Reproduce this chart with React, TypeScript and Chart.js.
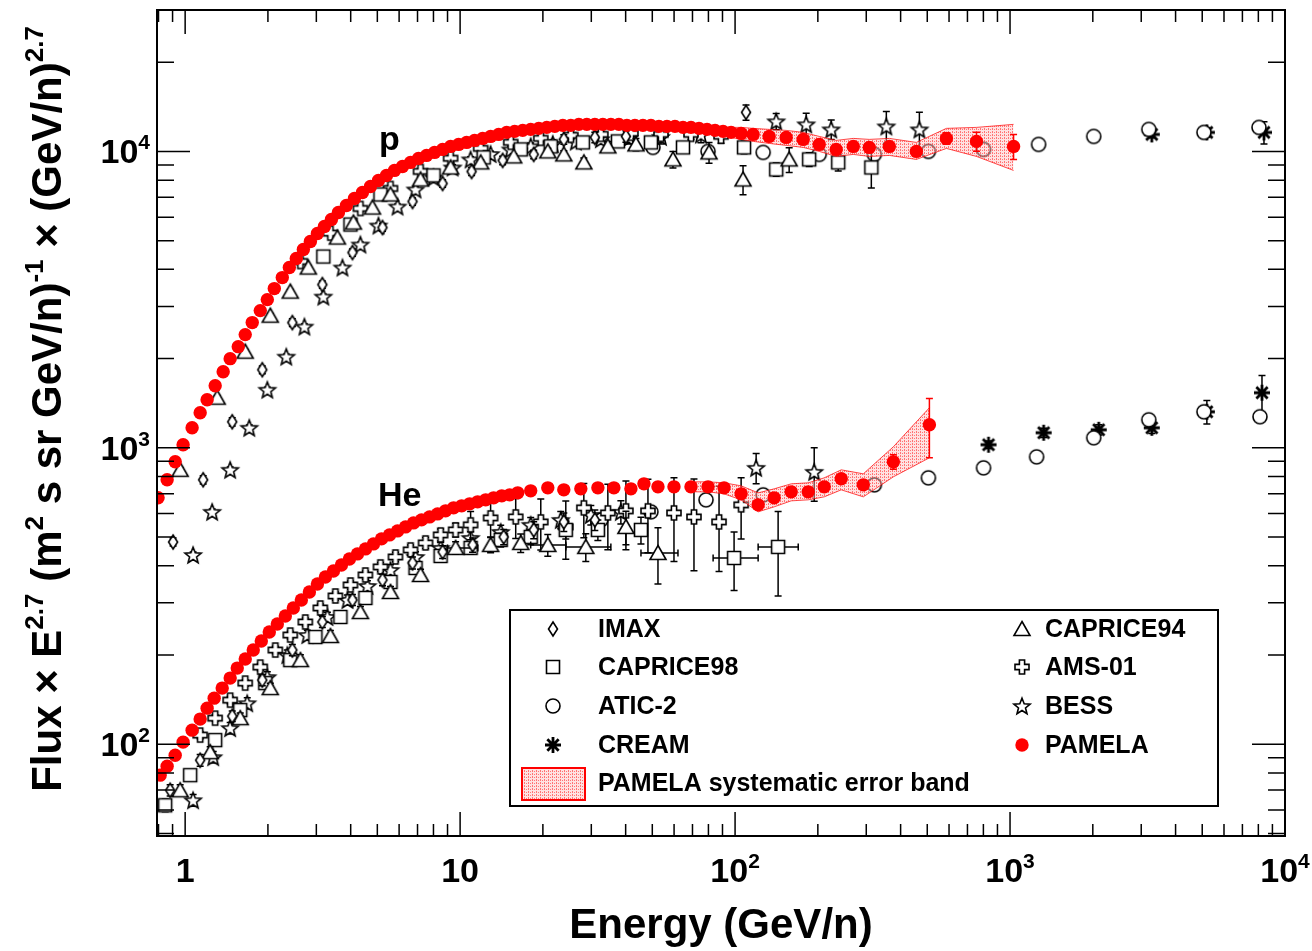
import React, { useEffect, useRef } from "react";
import { Chart, registerables } from "chart.js";

Chart.register(...registerables);

const FONT = "'Liberation Sans', Arial, Helvetica, sans-serif";

// ---------------- axis ranges ----------------
const X_MIN = 0.79;
const X_MAX = 10000;
const Y_MIN = 49;
const Y_MAX = 30000;

// ---------------- PAMELA protons ----------------
const PAM_P_E = [0.797, 0.86, 0.92, 0.983, 1.06, 1.134, 1.202, 1.286, 1.375, 1.458,
  1.56, 1.654, 1.754, 1.876, 1.99, 2.11, 2.256, 2.393, 2.537, 2.691,
  2.854, 3.027, 3.21, 3.404, 3.61, 3.859, 4.127, 4.413, 4.721, 5.048,
  5.398, 5.772, 6.172, 6.601, 7.06, 7.551, 8.073, 8.636, 9.234, 9.874,
  10.56, 11.29, 12.08, 12.91, 13.81, 14.77, 15.79, 16.89, 18.06, 19.32,
  20.66, 22.1, 23.63, 25.27, 27.02, 28.89, 30.9, 33.04, 35.34, 37.79,
  40.42, 43.22, 46.22, 49.43, 52.86, 56.53, 60.45, 64.65, 69.13, 73.94,
  79.07, 84.55, 90.43, 96.7, 105.2, 116.3, 133, 153.4, 176.9, 202.3,
  233.3, 269.1, 307.7, 363.9, 456.3, 587, 755.1, 1030];
const PAM_P_F = [678, 780, 897, 1024, 1168, 1313, 1453, 1620, 1806, 1999,
  2194, 2409, 2645, 2903, 3162, 3445, 3752, 4057, 4350, 4667,
  4965, 5284, 5581, 5892, 6222, 6570, 6937, 7270, 7616, 7981,
  8298, 8627, 8899, 9180, 9470, 9694, 9922, 10156, 10396, 10559,
  10725, 10894, 11064, 11237, 11414, 11593, 11684, 11775, 11867, 11960,
  12053, 12147, 12242, 12242, 12338, 12338, 12338, 12338, 12338, 12338,
  12242, 12242, 12242, 12242, 12147, 12147, 12147, 12053, 12053, 11960,
  11867, 11775, 11684, 11593, 11503, 11414, 11237, 11150, 10979, 10559,
  10156, 10396, 10316, 10396, 10000, 11064, 10810, 10396];
const PAM_P_ERR = [0, 0, 0, 0, 0, 0, 0, 0, 0, 0,
  0, 0, 0, 0, 0, 0, 0, 0, 0, 0,
  0, 0, 0, 0, 0, 0, 0, 0, 0, 0,
  0, 0, 0, 0, 0, 0, 0, 0, 0, 0,
  0, 0, 0, 0, 0, 0, 0, 0, 0, 0,
  0, 0, 0, 0, 0, 0, 0, 0, 0, 0,
  0, 0, 0, 0, 0, 0, 0, 0, 0, 0,
  0, 0, 0, 0, 0, 0, 0, 0, 0, 0,
  0, 0, 200, 250, 300, 500, 800, 1000];

// PAMELA proton systematic band
const PAM_P_BAND_E = [64.65, 69.13, 73.94, 79.07, 84.55, 90.43, 96.7, 105.2, 116.3, 133, 153.4,
  176.9, 202.3, 233.3, 269.1, 307.7, 363.9, 456.3, 587, 755.1, 1030];
const PAM_P_BAND_HI = [12434, 12434, 12338, 12242, 12147, 12053, 12053, 12053, 11960, 11867, 11775,
  11593, 11237, 10894, 11064, 10979, 11064, 10725, 11960, 12053, 12338];
const PAM_P_BAND_LO = [11684, 11684, 11593, 11503, 11414, 11325, 11150, 10979, 10810, 10642, 10478,
  10316, 10000, 9618, 9769, 9618, 9694, 9397, 10236, 9618, 8627];

// ---------------- PAMELA helium ----------------
const PAM_HE_E = [0.811, 0.86, 0.92, 0.983, 1.06, 1.134, 1.202, 1.275, 1.364, 1.458,
  1.547, 1.654, 1.769, 1.892, 2.023, 2.164, 2.314, 2.474, 2.646, 2.83,
  3.027, 3.236, 3.462, 3.701, 3.957, 4.232, 4.525, 4.84, 5.176, 5.535,
  5.92, 6.331, 6.769, 7.238, 7.741, 8.279, 8.854, 9.469, 10.13, 10.83,
  11.58, 12.39, 13.24, 14.17, 15.15, 16.2, 18.06, 20.84, 23.83, 27.48,
  31.7, 36.24, 41.8, 46.62, 52.43, 59.95, 69.13, 79.74, 91.19, 105.2,
  121.3, 138.7, 160, 184.5, 211, 243.3, 292.7, 376.4, 509];
const PAM_HE_F = [78.6, 84.3, 91.8, 101.6, 111.5, 121.5, 132.3, 143.0, 154.6, 167.1,
  180.6, 193.8, 207.8, 222.8, 239.0, 254.3, 270.6, 288.1, 306.6, 326.2,
  347.1, 366.6, 384.1, 402.4, 421.7, 438.5, 455.9, 474.0, 492.8, 508.3,
  524.3, 540.9, 557.9, 571.2, 584.6, 598.4, 612.7, 627.1, 637.0, 646.9,
  657.1, 667.4, 677.8, 688.4, 693.8, 704.7, 715.7, 732.7, 721.3, 727.0,
  732.7, 732.7, 727.0, 755.8, 738.3, 738.3, 738.3, 738.3, 732.7, 699.2,
  641.9, 677.8, 710.2, 710.2, 738.3, 785.8, 749.9, 896.7, 1196];
const PAM_HE_ERR = [0, 0, 0, 0, 0, 0, 0, 0, 0, 0,
  0, 0, 0, 0, 0, 0, 0, 0, 0, 0,
  0, 0, 0, 0, 0, 0, 0, 0, 0, 0,
  0, 0, 0, 0, 0, 0, 0, 0, 0, 0,
  0, 0, 0, 0, 0, 0, 0, 0, 0, 0,
  0, 0, 0, 0, 0, 0, 0, 0, 0, 0,
  0, 0, 12, 12, 15, 18, 25, 50, 270];

const PAM_HE_BAND_E = [69.13, 79.74, 91.19, 105.2, 121.3, 138.7, 160, 184.5, 211, 243.3, 292.7, 376.4, 509];
const PAM_HE_BAND_HI = [767.6, 767.6, 761.8, 744.1, 704.7, 727.0, 755.8, 761.8, 791.8, 842.7, 816.9, 1007.9, 1365];
const PAM_HE_BAND_LO = [710.2, 710.2, 699.2, 667.4, 607.9, 632.0, 662.2, 667.4, 683.1, 721.3, 683.1, 798.0, 925.1];

// ---------------- IMAX ----------------
const IMAX_P_E = [0.904, 1.163, 1.483, 1.908, 2.454, 3.155, 4.059, 5.22, 6.713, 8.636, 11.01, 14.28, 18.52, 23.83, 30.9, 40.09, 109.6];
const IMAX_P_F = [481, 780, 1224, 1834, 2645, 3554, 4558, 5537, 6777, 7796, 8558, 9324, 9769, 10979, 11150, 11237, 13543];
const IMAX_P_ERR = [15, 25, 40, 55, 80, 100, 130, 160, 190, 230, 260, 300, 330, 400, 450, 500, 800];
const IMAX_HE_E = [0.882, 1.134, 1.483, 1.908, 2.454, 3.155, 4.059, 5.22, 6.713, 8.636, 11.1, 14.4, 18.52, 23.83, 30.9];
const IMAX_HE_F = [69.9, 88.3, 124.3, 164.5, 207.8, 258.4, 306.6, 358.2, 408.8, 445.3, 470.3, 500.4, 528.5, 562.3, 571.2];
const IMAX_HE_ERR = [3, 4, 5, 7, 9, 11, 13, 16, 19, 22, 26, 30, 35, 40, 45];

// ---------------- CAPRICE94 ----------------
const C94_P_E = [0.959, 1.308, 1.654, 2.04, 2.412, 2.806, 3.579, 4.093, 4.8, 5.582, 7.18, 9.234, 11.88, 15.66, 20.84, 23.83, 28.18, 34.46, 43.6, 59.44, 80.41, 106.9, 157.3];
const C94_P_F = [843, 1476, 2110, 2792, 3365, 4057, 5123, 5755, 6467, 7157, 8043, 8828, 9180, 9618, 10000, 9769, 9180, 10396, 10559, 9397, 9922, 8043, 9397];
const C94_P_ERR = [15, 25, 35, 45, 55, 65, 80, 90, 100, 110, 130, 150, 170, 200, 250, 280, 320, 400, 500, 600, 800, 900, 900];
const C94_HE_E = [0.959, 1.233, 1.586, 2.04, 2.625, 3.375, 4.34, 5.582, 7.18, 9.63, 12.91, 16.61, 20.84, 28.65, 40.09, 52.43];
const C94_HE_F = [69.9, 94.0, 122.4, 154.6, 192.2, 231.7, 279.2, 326.2, 372.3, 459.5, 470.3, 477.7, 470.3, 463.0, 540.9, 441.9];
const C94_HE_ERR = [3, 4, 5, 6, 8, 10, 12, 14, 17, 22, 28, 34, 40, 50, 70, 95];
const C94_HE_XLO = [0, 0, 0, 0, 0, 0, 0, 0, 0, 9.0, 0, 0, 18.06, 24.23, 0, 45.47];
const C94_HE_XHI = [0, 0, 0, 0, 0, 0, 0, 0, 0, 11.6, 0, 0, 24.23, 35.34, 0, 61.99];

// ---------------- CAPRICE98 ----------------
const C98_P_E = [3.182, 3.992, 5.133, 8.006, 12.18, 16.61, 21.36, 27.95, 37.48, 49.43, 64.65, 107.8, 141.1, 186, 237.2, 313];
const C98_P_F = [4419, 5667, 7157, 8298, 9544, 10156, 10396, 10725, 10810, 10725, 10316, 10316, 8692, 9397, 9180, 8828];
const C98_P_ERR = [60, 80, 100, 120, 150, 180, 220, 260, 300, 350, 400, 500, 450, 500, 600, 1300];
const C98_HE_E = [0.846, 1.043, 1.286, 1.586, 1.956, 2.412, 2.976, 3.67, 4.525, 5.582, 6.885, 8.492, 10.92, 14.05, 18.06, 24.23, 31.7, 45.47, 99.17, 143.4];
const C98_HE_F = [62.2, 78.6, 103.2, 130.3, 160.7, 192.2, 229.9, 268.7, 311.4, 352.6, 393.2, 431.6, 459.5, 489, 500.4, 528.5, 528.5, 528.5, 424.9, 463];
const C98_HE_ERR = [3, 3, 4, 5, 6, 7, 8, 10, 12, 14, 16, 18, 22, 26, 30, 36, 42, 55, 95, 147];
const C98_HE_XLO = [0, 0, 0, 0, 0, 0, 0, 0, 0, 0, 0, 0, 0, 0, 0, 0, 0, 0, 83.2, 121.3];
const C98_HE_XHI = [0, 0, 0, 0, 0, 0, 0, 0, 0, 0, 0, 0, 0, 0, 0, 0, 0, 0, 121.3, 169.7];

// ---------------- ATIC-2 ----------------
const ATIC_P_E = [50.27, 79.74, 126.5, 202.3, 321, 504.9, 800.9, 1270, 2015, 3196, 5070, 8042];
const ATIC_P_F = [10316, 10000, 9922, 9769, 9769, 10000, 10156, 10559, 11237, 11867, 11593, 12053];
const ATIC_HE_E = [32.5, 49.43, 78.41, 126.5, 321, 504.9, 800.9, 1249, 2015, 3196, 5070, 8110];
const ATIC_HE_F = [571.2, 607.9, 667.4, 693.8, 749.9, 791.8, 855.9, 932.3, 1081, 1243, 1323, 1273];

// ---------------- CREAM ----------------
const CREAM_P_E = [3277, 5198, 8386];
const CREAM_P_F = [11414, 11593, 11593];
const CREAM_P_ERR = [300, 400, 1000];
const CREAM_HE_E = [835.2, 1325, 2101, 3277, 5198, 8247];
const CREAM_HE_F = [1024, 1124, 1150, 1168, 1323, 1534];
const CREAM_HE_ERR = [30, 40, 45, 50, 120, 220];

// ---------------- BESS ----------------
const BESS_P_E = [1.069, 1.254, 1.458, 1.711, 1.99, 2.333, 2.714, 3.182, 3.733, 4.34,
  5.048, 5.92, 6.885, 8.006, 9.391, 10.92, 12.91, 15.28, 18.06, 21.73,
  26.35, 32.5, 41.11, 53.76, 75.16, 141.1, 181.4, 223.7, 354.9, 468.1];
const BESS_P_F = [435, 608, 843, 1168, 1570, 2030, 2564, 3237, 4057, 4851,
  5623, 6518, 7440, 8169, 8828, 9397, 9800, 10150, 10400, 10600,
  10800, 11000, 11100, 11200, 11400, 12632, 12338, 11867, 12147, 11867];
const BESS_P_ERR = [10, 14, 18, 25, 32, 40, 50, 60, 75, 90,
  105, 120, 140, 160, 180, 200, 220, 250, 280, 320,
  360, 420, 500, 600, 700, 800, 1100, 900, 1500, 1700];
const BESS_HE_E = [1.069, 1.265, 1.458, 1.682, 1.99, 2.353, 2.782, 3.291, 3.893, 4.603, 5.582, 6.885, 8.492, 10.92, 14.05, 18.06, 23.23, 29.88, 38.43, 119.3, 194];
const BESS_HE_F = [64.7, 90.4, 113.3, 137.5, 168.4, 199.8, 233.5, 268.7, 306.6, 341.8, 387, 428.3, 459.5, 496.5, 520.3, 549.5, 571.2, 593.7, 607.9, 855.9, 829.7];
const BESS_HE_ERR = [3, 4, 5, 6, 7, 8, 9, 10, 12, 14, 16, 18, 20, 24, 28, 32, 38, 45, 55, 100, 170];

// ---------------- AMS-01 ----------------
const AMS_P_E = [2.625, 3.375, 4.34, 5.582, 7.18, 9.234, 11.88, 15.28, 19.65, 25.27, 32.5, 41.8, 53.76, 69.13, 88.92];
const AMS_P_F = [4250, 5300, 6420, 7500, 8560, 9480, 10240, 10730, 11070, 11330, 11420, 11510, 11420, 11420, 11250];
const AMS_P_ERR = [40, 50, 60, 70, 80, 90, 100, 120, 150, 180, 220, 280, 350, 450, 600];
const AMS_HE_E = [1.134, 1.286, 1.458, 1.654, 1.876, 2.128, 2.412, 2.736, 3.103, 3.519,
  3.992, 4.525, 5.133, 5.821, 6.601, 7.487, 8.492, 9.63, 10.92, 12.91,
  15.93, 19.65, 24.23, 28.18, 34.46, 40.09, 48.21, 59.95, 70.88, 87.44, 105.2];
const AMS_HE_F = [107.3, 122.4, 140.8, 160.7, 182, 207.8, 233.5, 258.4, 288.1, 316.2,
  344.5, 372.3, 396.3, 428.3, 452.3, 477.7, 508.3, 528.5, 549.5, 580.1,
  584.6, 562.3, 540.9, 627.1, 603.1, 612.7, 612.7, 603.1, 584.6, 562.3, 641.9];
const AMS_HE_ERR = [3, 3, 4, 4, 5, 6, 7, 8, 9, 10,
  11, 12, 14, 16, 18, 20, 24, 28, 60, 80,
  90, 110, 120, 130, 150, 160, 170, 190, 200, 180, 150];

// ---------------- tick / legend text ----------------
const X_TICKS = [1, 10, 100, 1000, 10000];
const X_TICK_TEXT = [["1", ""], ["10", ""], ["10", "2"], ["10", "3"], ["10", "4"]];
const Y_TICKS = [100, 1000, 10000];
const Y_TICK_TEXT = [["10", "2"], ["10", "3"], ["10", "4"]];

function pts(E: number[], F: number[]) {
  return E.map((x, i) => ({ x, y: F[i] }));
}

function makeSymbol(kind: string): HTMLCanvasElement {
  const S = 24;
  const c = document.createElement("canvas");
  c.width = S;
  c.height = S;
  const g = c.getContext("2d")!;
  g.translate(S / 2, S / 2);
  g.strokeStyle = "#000";
  g.fillStyle = "#fff";
  g.lineWidth = 1.6;
  g.beginPath();
  if (kind === "diamond") {
    g.moveTo(0, -7);
    g.lineTo(4.5, 0);
    g.lineTo(0, 7);
    g.lineTo(-4.5, 0);
    g.closePath();
  } else if (kind === "square") {
    g.rect(-6.5, -6.5, 13, 13);
  } else if (kind === "circle") {
    g.arc(0, 0, 7, 0, Math.PI * 2);
  } else if (kind === "triangle") {
    g.moveTo(0, -7.5);
    g.lineTo(8, 6.5);
    g.lineTo(-8, 6.5);
    g.closePath();
  } else if (kind === "cross") {
    const a = 2.6, L = 7;
    g.moveTo(-a, -L); g.lineTo(a, -L); g.lineTo(a, -a); g.lineTo(L, -a); g.lineTo(L, a);
    g.lineTo(a, a); g.lineTo(a, L); g.lineTo(-a, L); g.lineTo(-a, a); g.lineTo(-L, a);
    g.lineTo(-L, -a); g.lineTo(-a, -a); g.closePath();
  } else if (kind === "star") {
    for (let i = 0; i < 10; i++) {
      const ang = -Math.PI / 2 + (i * Math.PI) / 5;
      const r = i % 2 === 0 ? 8.5 : 3.7;
      const px = Math.cos(ang) * r, py = Math.sin(ang) * r + 0.8;
      if (i === 0) g.moveTo(px, py); else g.lineTo(px, py);
    }
    g.closePath();
  } else if (kind === "asterisk") {
    g.lineWidth = 2.8;
    for (let k = 0; k < 4; k++) {
      const ang = (k * Math.PI) / 4;
      g.moveTo(Math.cos(ang) * 8, Math.sin(ang) * 8);
      g.lineTo(-Math.cos(ang) * 8, -Math.sin(ang) * 8);
    }
  }
  if (kind !== "asterisk") g.fill();
  g.stroke();
  return c;
}

function makeBandPattern(ctx: CanvasRenderingContext2D) {
  const c = document.createElement("canvas");
  c.width = 4;
  c.height = 3;
  const g = c.getContext("2d")!;
  g.fillStyle = "rgba(255,190,190,0.45)";
  g.fillRect(0, 0, 4, 3);
  g.fillStyle = "rgba(255,30,30,0.55)";
  g.fillRect(0, 0, 1, 1);
  g.fillRect(2, 0, 1, 1);
  g.fillRect(0, 2, 1, 1);
  return ctx.createPattern(c, "repeat");
}

type Seg = { t: string; sup?: boolean };

function segWidth(ctx: CanvasRenderingContext2D, segs: Seg[], size: number) {
  let w = 0;
  for (const s of segs) {
    ctx.font = `bold ${s.sup ? Math.round(size * 0.62) : size}px ${FONT}`;
    w += ctx.measureText(s.t).width;
  }
  return w;
}

function drawRich(ctx: CanvasRenderingContext2D, segs: Seg[], x: number, y: number, size: number, align: string) {
  const w = segWidth(ctx, segs, size);
  let cx = align === "center" ? x - w / 2 : align === "right" ? x - w : x;
  ctx.textAlign = "left";
  ctx.textBaseline = "alphabetic";
  for (const s of segs) {
    ctx.font = `bold ${s.sup ? Math.round(size * 0.62) : size}px ${FONT}`;
    ctx.fillText(s.t, cx, s.sup ? y - size * 0.42 : y);
    cx += ctx.measureText(s.t).width;
  }
}

function tickSegs(pair: string[]): Seg[] {
  const s: Seg[] = [{ t: pair[0] }];
  if (pair[1]) s.push({ t: pair[1], sup: true });
  return s;
}

export default function App() {
  const ref = useRef<HTMLCanvasElement | null>(null);

  useEffect(() => {
    const canvas = ref.current;
    if (!canvas) return;
    const ctx0 = canvas.getContext("2d")!;
    const band = makeBandPattern(ctx0);
    const SYM: Record<string, HTMLCanvasElement> = {
      diamond: makeSymbol("diamond"),
      square: makeSymbol("square"),
      circle: makeSymbol("circle"),
      triangle: makeSymbol("triangle"),
      cross: makeSymbol("cross"),
      star: makeSymbol("star"),
      asterisk: makeSymbol("asterisk"),
    };

    const black = (label: string, sym: string, E: number[], F: number[], err?: number[], xlo?: number[], xhi?: number[]) => ({
      type: "scatter",
      label,
      data: pts(E, F),
      pointStyle: SYM[sym],
      pointRadius: 7,
      order: 2,
      errY: err,
      xLo: xlo,
      xHi: xhi,
      errColor: "#000",
    });

    const pamela = (E: number[], F: number[], err: number[]) => ({
      type: "scatter",
      label: "PAMELA",
      data: pts(E, F),
      pointStyle: "circle",
      pointRadius: 6.7,
      pointBackgroundColor: "#ff0000",
      pointBorderColor: "#ff0000",
      pointBorderWidth: 0,
      order: 0,
      errY: err,
      errColor: "#ff0000",
    });

    const bandLine = (E: number[], F: number[], fill: any) => ({
      type: "line",
      label: "PAMELA systematic error band",
      data: pts(E, F),
      pointRadius: 0,
      borderColor: "rgba(255,0,0,0.7)",
      borderWidth: 1,
      backgroundColor: band,
      fill,
      tension: 0,
      order: 1,
    });

    const datasets: any[] = [
      pamela(PAM_P_E, PAM_P_F, PAM_P_ERR),
      pamela(PAM_HE_E, PAM_HE_F, PAM_HE_ERR),
      bandLine(PAM_P_BAND_E, PAM_P_BAND_HI, false),
      bandLine(PAM_P_BAND_E, PAM_P_BAND_LO, "-1"),
      bandLine(PAM_HE_BAND_E, PAM_HE_BAND_HI, false),
      bandLine(PAM_HE_BAND_E, PAM_HE_BAND_LO, "-1"),
      black("IMAX", "diamond", IMAX_P_E, IMAX_P_F, IMAX_P_ERR),
      black("IMAX", "diamond", IMAX_HE_E, IMAX_HE_F, IMAX_HE_ERR),
      black("CAPRICE94", "triangle", C94_P_E, C94_P_F, C94_P_ERR),
      black("CAPRICE94", "triangle", C94_HE_E, C94_HE_F, C94_HE_ERR, C94_HE_XLO, C94_HE_XHI),
      black("CAPRICE98", "square", C98_P_E, C98_P_F, C98_P_ERR),
      black("CAPRICE98", "square", C98_HE_E, C98_HE_F, C98_HE_ERR, C98_HE_XLO, C98_HE_XHI),
      black("AMS-01", "cross", AMS_P_E, AMS_P_F, AMS_P_ERR),
      black("AMS-01", "cross", AMS_HE_E, AMS_HE_F, AMS_HE_ERR),
      black("BESS", "star", BESS_P_E, BESS_P_F, BESS_P_ERR),
      black("BESS", "star", BESS_HE_E, BESS_HE_F, BESS_HE_ERR),
      black("ATIC-2", "circle", ATIC_P_E, ATIC_P_F),
      black("ATIC-2", "circle", ATIC_HE_E, ATIC_HE_F),
      black("CREAM", "asterisk", CREAM_P_E, CREAM_P_F, CREAM_P_ERR),
      black("CREAM", "asterisk", CREAM_HE_E, CREAM_HE_F, CREAM_HE_ERR),
    ];

    const errorBars = {
      id: "errorBars",
      beforeDatasetDraw(chart: any, args: any) {
        const ds = chart.data.datasets[args.index];
        if (!ds.errY && !ds.xLo) return;
        const { ctx, chartArea: a } = chart;
        const xs = chart.scales.x, ys = chart.scales.y;
        ctx.save();
        ctx.beginPath();
        ctx.rect(a.left, a.top, a.right - a.left, a.bottom - a.top);
        ctx.clip();
        ctx.strokeStyle = ds.errColor || "#000";
        ctx.lineWidth = 1.5;
        ds.data.forEach((p: any, i: number) => {
          const px = xs.getPixelForValue(p.x);
          const e = ds.errY ? ds.errY[i] : 0;
          if (e) {
            const y1 = ys.getPixelForValue(p.y + e);
            const y2 = ys.getPixelForValue(Math.max(p.y - e, 1));
            ctx.beginPath();
            ctx.moveTo(px, y1); ctx.lineTo(px, y2);
            ctx.moveTo(px - 3.5, y1); ctx.lineTo(px + 3.5, y1);
            ctx.moveTo(px - 3.5, y2); ctx.lineTo(px + 3.5, y2);
            ctx.stroke();
          }
          const lo = ds.xLo ? ds.xLo[i] : 0, hi = ds.xHi ? ds.xHi[i] : 0;
          if (lo && hi) {
            const py = ys.getPixelForValue(p.y);
            const x1 = xs.getPixelForValue(lo), x2 = xs.getPixelForValue(hi);
            ctx.beginPath();
            ctx.moveTo(x1, py); ctx.lineTo(x2, py);
            ctx.moveTo(x1, py - 3.5); ctx.lineTo(x1, py + 3.5);
            ctx.moveTo(x2, py - 3.5); ctx.lineTo(x2, py + 3.5);
            ctx.stroke();
          }
        });
        ctx.restore();
      },
    };

    const frame = {
      id: "frameAxes",
      afterDraw(chart: any) {
        const { ctx, chartArea: a } = chart;
        const xs = chart.scales.x, ys = chart.scales.y;
        ctx.save();
        ctx.strokeStyle = "#000";
        ctx.fillStyle = "#000";
        ctx.lineWidth = 1.5;
        ctx.beginPath();
        for (let d = -1; d <= 4; d++) {
          for (let m = 1; m <= 9; m++) {
            const v = m * Math.pow(10, d);
            if (v < X_MIN || v > X_MAX * 1.001) continue;
            const px = xs.getPixelForValue(v);
            const len = m === 1 ? 24 : 12;
            ctx.moveTo(px, a.bottom); ctx.lineTo(px, a.bottom - len);
            ctx.moveTo(px, a.top); ctx.lineTo(px, a.top + len);
          }
        }
        for (let d = 1; d <= 4; d++) {
          for (let m = 1; m <= 9; m++) {
            const v = m * Math.pow(10, d);
            if (v < Y_MIN || v > Y_MAX) continue;
            const py = ys.getPixelForValue(v);
            const len = m === 1 ? 33 : 17;
            ctx.moveTo(a.left, py); ctx.lineTo(a.left + len, py);
            ctx.moveTo(a.right, py); ctx.lineTo(a.right - len, py);
          }
        }
        ctx.stroke();
        ctx.lineWidth = 2;
        ctx.strokeRect(a.left, a.top, a.right - a.left, a.bottom - a.top);

        // tick labels
        X_TICKS.forEach((v, i) => {
          drawRich(ctx, tickSegs(X_TICK_TEXT[i]), xs.getPixelForValue(v), 882, 34, "center");
        });
        Y_TICKS.forEach((v, i) => {
          drawRich(ctx, tickSegs(Y_TICK_TEXT[i]), 150, ys.getPixelForValue(v) + 12, 34, "right");
        });

        // axis titles
        drawRich(ctx, [{ t: "Energy (GeV/n)" }], 721, 938, 42, "center");
        ctx.save();
        ctx.translate(61, 409);
        ctx.rotate(-Math.PI / 2);
        drawRich(ctx, [
          { t: "Flux \u00d7 E" }, { t: "2.7", sup: true },
          { t: " (m" }, { t: "2", sup: true },
          { t: " s sr GeV/n)" }, { t: "-1", sup: true },
          { t: " \u00d7 (GeV/n)" }, { t: "2.7", sup: true },
        ], 0, 0, 42, "center");
        ctx.restore();

        // curve labels
        drawRich(ctx, [{ t: "p" }], 379, 150, 34, "left");
        drawRich(ctx, [{ t: "He" }], 378, 506, 34, "left");

        // legend
        const L = { x: 510, y: 610, w: 708, h: 196 };
        ctx.fillStyle = "#fff";
        ctx.fillRect(L.x, L.y, L.w, L.h);
        ctx.lineWidth = 2;
        ctx.strokeRect(L.x, L.y, L.w, L.h);
        const rows = [
          { sym: "diamond", text: "IMAX", sx: 553, tx: 598, y: 629 },
          { sym: "square", text: "CAPRICE98", sx: 553, tx: 598, y: 667 },
          { sym: "circle", text: "ATIC-2", sx: 553, tx: 598, y: 706 },
          { sym: "asterisk", text: "CREAM", sx: 553, tx: 598, y: 745 },
          { sym: "triangle", text: "CAPRICE94", sx: 1022, tx: 1045, y: 629 },
          { sym: "cross", text: "AMS-01", sx: 1022, tx: 1045, y: 667 },
          { sym: "star", text: "BESS", sx: 1022, tx: 1045, y: 706 },
          { sym: "dot", text: "PAMELA", sx: 1022, tx: 1045, y: 745 },
        ];
        ctx.font = `bold 25px ${FONT}`;
        ctx.textBaseline = "middle";
        ctx.textAlign = "left";
        rows.forEach((r) => {
          if (r.sym === "dot") {
            ctx.fillStyle = "#ff0000";
            ctx.beginPath();
            ctx.arc(r.sx, r.y, 6.7, 0, Math.PI * 2);
            ctx.fill();
          } else {
            const c = SYM[r.sym];
            ctx.drawImage(c, r.sx - c.width / 2, r.y - c.height / 2);
          }
          ctx.fillStyle = "#000";
          ctx.fillText(r.text, r.tx, r.y + 1);
        });
        // band swatch
        ctx.fillStyle = band as any;
        ctx.fillRect(522, 768, 63, 32);
        ctx.strokeStyle = "#ff0000";
        ctx.lineWidth = 2;
        ctx.strokeRect(522, 768, 63, 32);
        ctx.fillStyle = "#000";
        ctx.fillText("PAMELA systematic error band", 598, 784);
        ctx.restore();
      },
    };

    const chart = new Chart(canvas, {
      type: "scatter",
      data: { datasets },
      options: {
        responsive: false,
        animation: false,
        devicePixelRatio: 1,
        events: [],
        layout: { padding: { left: 157, right: 27, top: 10, bottom: 115 } },
        scales: {
          x: { type: "logarithmic", min: X_MIN, max: X_MAX, display: false },
          y: { type: "logarithmic", min: Y_MIN, max: Y_MAX, display: false },
        },
        plugins: { legend: { display: false }, tooltip: { enabled: false } },
      },
      plugins: [errorBars, frame],
    } as any);

    return () => chart.destroy();
  }, []);

  return (
    <div style={{ position: "absolute", left: 0, top: 0, width: 1312, height: 951, background: "#fff" }}>
      <canvas ref={ref} width={1312} height={951} style={{ display: "block" }} />
    </div>
  );
}
